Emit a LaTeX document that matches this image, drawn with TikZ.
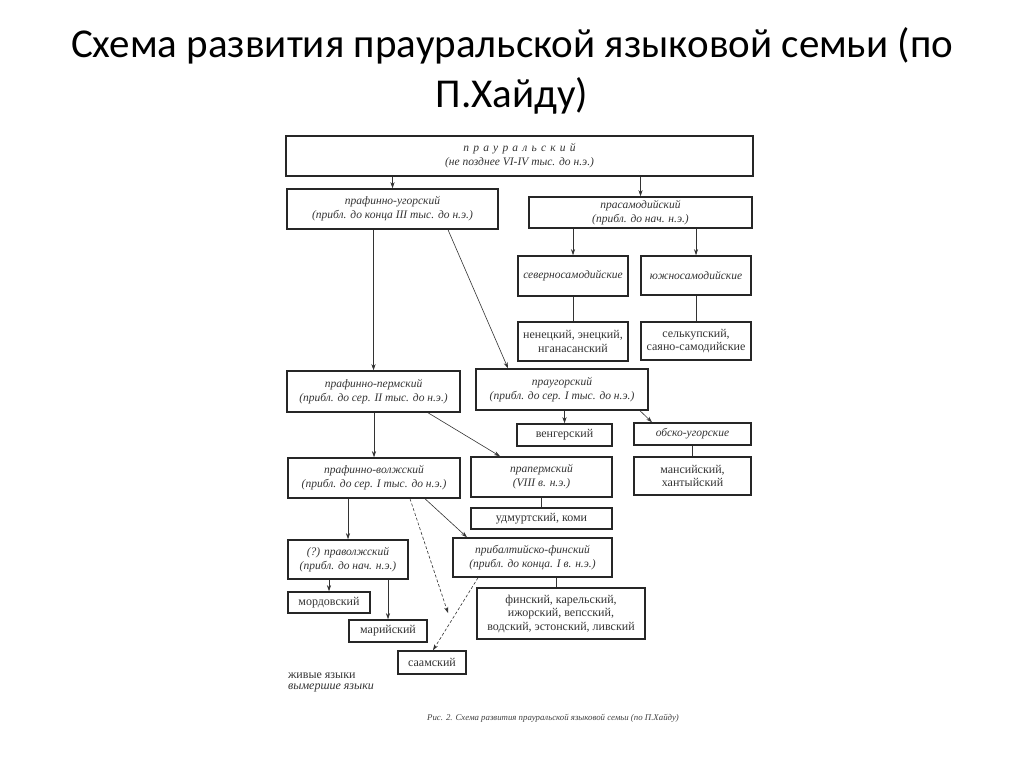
\documentclass[tikz,border=0pt]{standalone}
\usepackage{fontspec}
\setmainfont{Liberation Serif}
\newfontfamily\titlefont{Carlito}
\usetikzlibrary{arrows.meta}
\newcommand{\lgap}{\hspace{4.2pt}}
\begin{document}
\begin{tikzpicture}[x=1pt,y=-1pt,
  box/.style={draw=black!85,line width=1.5pt,inner sep=0pt,align=center,text=black!80,font=\fontsize{11.5}{14}\selectfont\itshape},
  lbox/.style={box,font=\fontsize{12}{13.5}\selectfont},
  arr/.style={-{Stealth[length=6pt,width=4pt]},line width=0.6pt,draw=black!80},
  ln/.style={line width=0.6pt,draw=black!80},
  darr/.style={arr,dashed,dash pattern=on 3pt off 2pt},
]
\useasboundingbox (0,0) rectangle (1024,768);
\fill[white] (0,0) rectangle (1024,768);
\node[font=\titlefont\fontsize{41}{50}\selectfont,align=center] (title) at (512,71) {Схема развития прауральской языковой семьи (по\\П.Хайду)};

\node[box,minimum width=467pt,minimum height=40pt] (pu) at (519.5,156) {п\lgap р\lgap а\lgap у\lgap р\lgap а\lgap л\lgap ь\lgap с\lgap к\lgap и\lgap й\\(не позднее VI-IV тыс. до н.э.)};
\node[box,minimum width=211pt,minimum height=40pt] (pfu) at (392.5,209) {прафинно-угорский\\(прибл. до конца III тыс. до н.э.)};
\node[box,minimum width=223pt,minimum height=31pt] (ps) at (640.5,212.5) {прасамодийский\\(прибл. до нач. н.э.)};
\node[box,minimum width=110pt,minimum height=40pt] (ns) at (573,276) {северносамодийские};
\node[box,minimum width=110pt,minimum height=39pt] (ys) at (696,275.5) {южносамодийские};
\node[lbox,minimum width=110pt,minimum height=39pt] (nen) at (573,341.5) {ненецкий, энецкий,\\нганасанский};
\node[lbox,minimum width=110pt,minimum height=38pt] (sel) at (696,341) {селькупский,\\саяно-самодийские};
\node[box,minimum width=173pt,minimum height=41pt] (pfp) at (373.5,391.5) {прафинно-пермский\\(прибл. до сер. II тыс. до н.э.)};
\node[box,minimum width=172pt,minimum height=41pt] (pug) at (562,389.5) {праугорский\\(прибл. до сер. I тыс. до н.э.)};
\node[lbox,minimum width=95pt,minimum height=22pt] (ven) at (564.5,435) {венгерский};
\node[box,minimum width=117pt,minimum height=22pt] (ob) at (692.5,434) {обско-угорские};
\node[lbox,minimum width=117pt,minimum height=38pt] (man) at (692.5,476) {мансийский,\\хантыйский};
\node[box,minimum width=172pt,minimum height=40pt] (pfv) at (374,478) {прафинно-волжский\\(прибл. до сер. I тыс. до н.э.)};
\node[box,minimum width=141pt,minimum height=40pt] (pp) at (541.5,477) {прапермский\\(VIII в. н.э.)};
\node[lbox,minimum width=141pt,minimum height=21pt] (ud) at (541.5,518.5) {удмуртский, коми};
\node[box,minimum width=120pt,minimum height=39pt] (pv) at (348,559.5) {(?) праволжский\\(прибл. до нач. н.э.)};
\node[box,minimum width=159pt,minimum height=39pt] (pbf) at (532.5,557.5) {прибалтийско-финский\\(прибл. до конца. I в. н.э.)};
\node[lbox,minimum width=82pt,minimum height=21pt] (mor) at (329,602.5) {мордовский};
\node[lbox,minimum width=78pt,minimum height=22pt] (mar) at (388,631) {марийский};
\node[lbox,minimum width=68pt,minimum height=23pt] (saam) at (432,662.5) {саамский};
\node[lbox,minimum width=168pt,minimum height=51pt] (fin) at (561,613.5) {финский, карельский,\\ижорский, вепсский,\\водский, эстонский, ливский};

\node[anchor=west,inner sep=0pt,text=black!80,font=\fontsize{12}{13}\selectfont] (live) at (288,676) {живые языки};
\node[anchor=west,inner sep=0pt,text=black!80,font=\fontsize{12}{13}\selectfont\itshape] (dead) at (288,688) {вымершие языки};
\node[anchor=west,inner sep=0pt,text=black!75,font=\fontsize{8.8}{10}\selectfont\itshape] (cap) at (427,718) {Рис. 2. Схема развития прауральской языковой семьи (по П.Хайду)};

\coordinate (dj) at (448,613);

\draw[arr] (pu.south -| pfu.north) -- (pfu.north);
\draw[arr] (pu.south -| ps.north) -- (ps.north);
\draw[arr] (pfu.south -| pfp.north) -- (pfp.north);
\draw[arr] ([xshift=55.5pt]pfu.south) -- ([xshift=-54pt]pug.north);
\draw[arr] (ps.south -| ns.north) -- (ns.north);
\draw[arr] (ps.south -| ys.north) -- (ys.north);
\draw[ln] (ns.south) -- (nen.north);
\draw[ln] (ys.south) -- (sel.north);
\draw[arr] (pfp.south -| pfv.north) -- (pfv.north);
\draw[arr] ([xshift=54.5pt]pfp.south) -- ([xshift=-41.5pt]pp.north);
\draw[arr] (pug.south -| ven.north) -- (ven.north);
\draw[arr] ([xshift=78pt]pug.south) -- ([xshift=-40.5pt]ob.north);
\draw[ln] (ob.south) -- (man.north);
\draw[ln] (pp.south) -- (ud.north);
\draw[arr] (pfv.south -| pv.north) -- (pv.north);
\draw[arr] ([xshift=51pt]pfv.south) -- ([xshift=-65.5pt]pbf.north);
\draw[darr] ([xshift=36pt]pfv.south) -- (dj);
\draw[darr] ([xshift=-54.5pt]pbf.south) -- ([xshift=1pt]saam.north);
\draw[arr] (pv.south -| mor.north) -- (mor.north);
\draw[arr] (pv.south -| mar.north) -- (mar.north);
\draw[ln] ([xshift=-5pt]fin.north |- pbf.south) -- ([xshift=-5pt]fin.north);
\end{tikzpicture}
\end{document}
